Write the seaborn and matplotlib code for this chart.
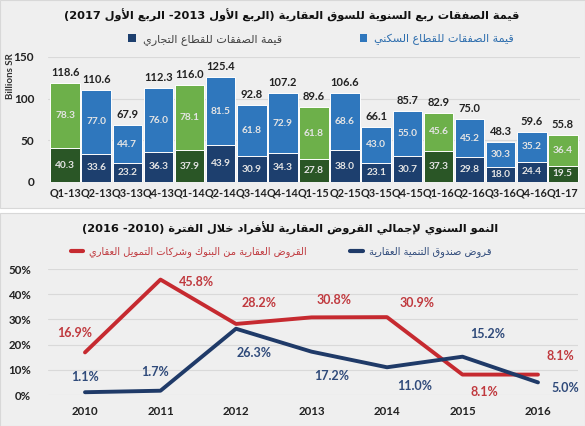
import re
import numpy as np
import pandas as pd
import matplotlib
matplotlib.use("Agg")
import matplotlib.pyplot as plt
from matplotlib.patches import Patch, Rectangle
from matplotlib.lines import Line2D
import seaborn as sns

# ---------------- data ----------------
quarters = ["Q1-13", "Q2-13", "Q3-13", "Q4-13", "Q1-14", "Q2-14", "Q3-14", "Q4-14",
            "Q1-15", "Q2-15", "Q3-15", "Q4-15", "Q1-16", "Q2-16", "Q3-16", "Q4-16", "Q1-17"]
commercial = [40.3, 33.6, 23.2, 36.3, 37.9, 43.9, 30.9, 34.3, 27.8, 38.0, 23.1, 30.7, 37.3, 29.8, 18.0, 24.4, 19.5]
residential = [78.3, 77.0, 44.7, 76.0, 78.1, 81.5, 61.8, 72.9, 61.8, 68.6, 43.0, 55.0, 45.6, 45.2, 30.3, 35.2, 36.4]
totals = [118.6, 110.6, 67.9, 112.3, 116.0, 125.4, 92.8, 107.2, 89.6, 106.6, 66.1, 85.7, 82.9, 75.0, 48.3, 59.6, 55.8]

years = [2010, 2011, 2012, 2013, 2014, 2015, 2016]
bank_loans = [16.9, 45.8, 28.2, 30.8, 30.9, 8.1, 8.1]
fund_loans = [1.1, 1.7, 26.3, 17.2, 11.0, 15.2, 5.0]

title_top = "قيمة الصفقات ربع السنوية للسوق العقارية (الربع الأول 2013- الربع الأول 2017)"
leg_res = "قيمة الصفقات للقطاع السكني"
leg_com = "قيمة الصفقات للقطاع التجاري"
title_bot = "النمو السنوي لإجمالي القروض العقارية للأفراد خلال الفترة (2010- 2016)"
leg_bank = "القروض العقارية من البنوك وشركات التمويل العقاري"
leg_fund = "قروض صندوق التنمية العقارية"
ylabel_top = "Billions SR"

# ---------------- Arabic shaping for display ----------------
_FORMS = {
    '\u0622': (0xFE81, 2), '\u0623': (0xFE83, 2), '\u0625': (0xFE87, 2), '\u0627': (0xFE8D, 2),
    '\u0628': (0xFE8F, 4), '\u0629': (0xFE93, 2), '\u062A': (0xFE95, 4), '\u062B': (0xFE99, 4),
    '\u062C': (0xFE9D, 4), '\u062D': (0xFEA1, 4), '\u062E': (0xFEA5, 4), '\u062F': (0xFEA9, 2),
    '\u0630': (0xFEAB, 2), '\u0631': (0xFEAD, 2), '\u0632': (0xFEAF, 2), '\u0633': (0xFEB1, 4),
    '\u0634': (0xFEB5, 4), '\u0635': (0xFEB9, 4), '\u0636': (0xFEBD, 4), '\u0637': (0xFEC1, 4),
    '\u0638': (0xFEC5, 4), '\u0639': (0xFEC9, 4), '\u063A': (0xFECD, 4), '\u0641': (0xFED1, 4),
    '\u0642': (0xFED5, 4), '\u0643': (0xFED9, 4), '\u0644': (0xFEDD, 4), '\u0645': (0xFEE1, 4),
    '\u0646': (0xFEE5, 4), '\u0647': (0xFEE9, 4), '\u0648': (0xFEED, 2), '\u0649': (0xFEEF, 2),
    '\u064A': (0xFEF1, 4),
}
_LAMALEF = {'\u0622': 0xFEF5, '\u0623': 0xFEF7, '\u0625': 0xFEF9, '\u0627': 0xFEFB}


def ar(s):
    units = []
    i = 0
    while i < len(s):
        c = s[i]
        if c == '\u0644' and i + 1 < len(s) and s[i + 1] in _LAMALEF:
            units.append(('LA', s[i + 1]))
            i += 2
        else:
            units.append(c)
            i += 1

    def jt(u):
        if isinstance(u, tuple):
            return 2
        return _FORMS[u][1] if u in _FORMS else 0

    out = []
    for k, u in enumerate(units):
        pj = k > 0 and jt(units[k - 1]) == 4
        nj = k + 1 < len(units) and jt(units[k + 1]) > 0
        if isinstance(u, tuple):
            out.append(chr(_LAMALEF[u[1]] + (1 if pj else 0)))
        elif u in _FORMS:
            base, n = _FORMS[u]
            if n == 4:
                off = 3 if (pj and nj) else 1 if pj else 2 if nj else 0
            else:
                off = 1 if pj else 0
            out.append(chr(base + off))
        else:
            out.append(u)
    shaped = "".join(out)
    toks = re.findall(r'\d+(?:\.\d+)?|.', shaped, re.S)
    toks.reverse()
    mirror = {'(': ')', ')': '('}
    return "".join(mirror.get(t, t) for t in toks)


# ---------------- styling ----------------
sns.set_theme(style="white")
plt.rcParams['font.family'] = ['Lato', 'DejaVu Sans']

W, H = 585, 426
fig = plt.figure(figsize=(W / 100, H / 100), dpi=100)
fig.patch.set_facecolor('white')

panel_col = '#efefef'
fig.patches.append(Rectangle((0, 1 - 208 / H), 1, 208 / H, transform=fig.transFigure,
                             facecolor=panel_col, edgecolor='#d8d8d8', lw=0.8, zorder=-10))
fig.patches.append(Rectangle((0, 0), 1, 1 - 213 / H, transform=fig.transFigure,
                             facecolor=panel_col, edgecolor='#d8d8d8', lw=0.8, zorder=-10))

green_l, green_d = '#6db04a', '#2a5626'
blue_l, blue_d = '#2f77bd', '#1d3f6e'
red_line, navy_line = '#c62a30', '#1f3a68'

# ---------------- top: stacked bars ----------------
ax1 = fig.add_axes([48 / W, 1 - 182 / H, 532 / W, 125 / H])
ax1.set_facecolor(panel_col)
is_q1 = [q.startswith("Q1") for q in quarters]
res_pal = [green_l if g else blue_l for g in is_q1]
com_pal = [green_d if g else blue_d for g in is_q1]

df = pd.DataFrame({"q": quarters, "total": totals, "com": commercial, "res": residential})
sns.barplot(data=df, x="q", y="total", hue="q", palette=res_pal, legend=False, ax=ax1,
            width=0.95, saturation=1, edgecolor='white', linewidth=0.7, zorder=2)
sns.barplot(data=df, x="q", y="com", hue="q", palette=com_pal, legend=False, ax=ax1,
            width=0.95, saturation=1, edgecolor='white', linewidth=0.7, zorder=3)

ax1.set_ylim(0, 150)
ax1.set_xlim(-0.55, len(quarters) - 0.45)
ax1.set_yticks([0, 50, 100, 150])
ax1.yaxis.grid(True, color='#d9d9d9', lw=0.8, zorder=0)
ax1.set_axisbelow(True)
for s in ax1.spines.values():
    s.set_visible(False)
ax1.set_xlabel("")
ax1.set_ylabel("")
ax1.tick_params(axis='both', length=0, pad=4)
ax1.tick_params(axis='y', pad=10)
for lab in ax1.get_xticklabels():
    lab.set_fontweight('bold')
    lab.set_fontsize(7.8)
    lab.set_color('#222222')
for lab in ax1.get_yticklabels():
    lab.set_fontweight('bold')
    lab.set_fontsize(8.5)
    lab.set_color('#222222')

for i in range(len(quarters)):
    ax1.text(i, commercial[i] / 2, f"{commercial[i]:.1f}", ha='center', va='center',
             fontsize=7.3, fontweight='bold', color='#e4e4e4', zorder=5)
    ax1.text(i, commercial[i] + residential[i] / 2, f"{residential[i]:.1f}", ha='center', va='center',
             fontsize=7.3, fontweight='bold', color='#e4e4e4', zorder=5)
    ax1.annotate(f"{totals[i]:.1f}", (i, totals[i]), xytext=(0, 5), textcoords='offset pixels',
                 ha='center', va='bottom', fontsize=8, fontweight='bold', color='#222222',
                 annotation_clip=False, zorder=5)

fig.text(11 / W, 1 - 76 / H, ylabel_top, rotation=90, ha='center', va='center',
         fontsize=7, fontweight='bold', color='#333333')

fig.text(292 / W, 1 - 15 / H, ar(title_top), ha='center', va='center', fontsize=8.2,
         fontweight='bold', family=['DejaVu Sans'], color='#111111')

h_com = Patch(facecolor=blue_d, edgecolor='none')
h_res = Patch(facecolor=blue_l, edgecolor='none')
leg1 = fig.legend([h_com, h_res], [ar(leg_com), ar(leg_res)], loc='center',
                  bbox_to_anchor=(321 / W, 1 - 39 / H), ncol=2, frameon=False,
                  prop={'family': 'DejaVu Sans', 'size': 8.0}, handlelength=0.7, handleheight=0.7,
                  handletextpad=0.6, columnspacing=7.0, labelcolor=['#444444', '#2f6fae'])

# ---------------- bottom: lines ----------------
ax2 = fig.add_axes([48 / W, 1 - 395 / H, 530 / W, 126 / H])
ax2.set_facecolor(panel_col)
df2 = pd.DataFrame({
    "year": years + years,
    "value": bank_loans + fund_loans,
    "series": ["bank"] * len(years) + ["fund"] * len(years),
})
sns.lineplot(data=df2, x="year", y="value", hue="series",
             palette={"bank": red_line, "fund": navy_line}, linewidth=2.8,
             legend=False, ax=ax2, zorder=3)
ax2.set_ylim(0, 50)
ax2.set_xlim(years[0] - 0.49, years[-1] + 0.53)
ax2.set_yticks([0, 10, 20, 30, 40, 50])
ax2.set_yticklabels([f"{v}%" for v in [0, 10, 20, 30, 40, 50]])
ax2.set_xticks(years)
ax2.set_xticklabels([str(y) for y in years])
ax2.yaxis.grid(True, color='#d9d9d9', lw=0.8, zorder=0)
ax2.set_axisbelow(True)
for s in ax2.spines.values():
    s.set_visible(False)
ax2.set_xlabel("")
ax2.set_ylabel("")
ax2.tick_params(axis='both', length=0)
ax2.tick_params(axis='x', pad=8)
ax2.tick_params(axis='y', pad=12)
for lab in ax2.get_xticklabels() + ax2.get_yticklabels():
    lab.set_fontweight('bold')
    lab.set_fontsize(8.3)
    lab.set_color('#222222')

bank_off = [(-10, 19), (36, -2), (23, 21), (23, 17), (30, 14), (22, -17), (22, 19)]
fund_off = [(0, 15), (-5, 19), (18, -24), (20, -24), (28, -19), (25, 23), (27, -6)]
for i, y in enumerate(years):
    ax2.annotate(f"{bank_loans[i]:.1f}%", (y, bank_loans[i]), xytext=bank_off[i],
                 textcoords='offset pixels', ha='center', va='center', fontsize=9,
                 fontweight='bold', color='#c0393e', annotation_clip=False)
    ax2.annotate(f"{fund_loans[i]:.1f}%", (y, fund_loans[i]), xytext=fund_off[i],
                 textcoords='offset pixels', ha='center', va='center', fontsize=9,
                 fontweight='bold', color='#2f4a7a', annotation_clip=False)

fig.text(290 / W, 1 - 228 / H, ar(title_bot), ha='center', va='center', fontsize=8.2,
         fontweight='bold', family=['DejaVu Sans'], color='#111111')

h_bank = Line2D([0], [0], color=red_line, lw=3)
h_fund = Line2D([0], [0], color=navy_line, lw=3)
leg2 = fig.legend([h_bank, h_fund], [ar(leg_bank), ar(leg_fund)], loc='center',
                  bbox_to_anchor=(281 / W, 1 - 252 / H), ncol=2, frameon=False,
                  prop={'family': 'DejaVu Sans', 'size': 7.1}, handlelength=1.3,
                  handletextpad=0.6, columnspacing=4.4, labelcolor=['#c0393e', '#2f4a7a'])

fig.savefig("out.png", dpi=100, facecolor='white')
